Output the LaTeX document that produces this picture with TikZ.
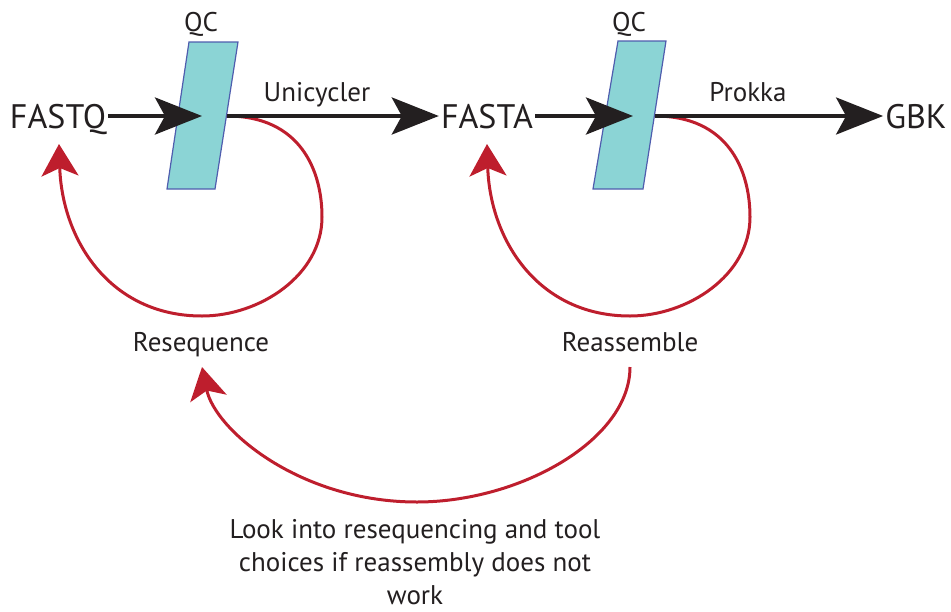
\documentclass[tikz,border=0pt]{standalone}
\usepackage{fontspec}
\setmainfont{PT Sans}
\usetikzlibrary{arrows.meta}
\definecolor{ink}{HTML}{231F20}
\definecolor{rd}{HTML}{BE1E2D}
\definecolor{qcfill}{HTML}{8BD4D5}
\definecolor{qcedge}{HTML}{4F5DAE}
\tikzset{
  lbl/.style={font=\fontsize{27}{33}\selectfont, text=ink, inner sep=0pt, anchor=base},
  big/.style={font=\fontsize{34}{40}\selectfont, text=ink, inner sep=2pt, anchor=base},
  flow/.style={draw=ink, line width=4pt, -{Stealth[length=47pt,width=37pt,inset=10pt]}},
  loopc/.style={draw=rd, line width=3pt, -{Stealth[length=32pt,width=37pt,inset=8pt]}},
  qcbox/.style={fill=qcfill, draw=qcedge, line width=1.2pt}
}
\begin{document}
\begin{tikzpicture}[x=1pt,y=-1pt]
\useasboundingbox (0,0) rectangle (951,611);
% QC boxes
\path[qcbox] (189,42) -- (238,42) -- (215,189) -- (167,189) -- cycle;
\path[qcbox] (618,41) -- (666,41) -- (643,189) -- (593,189) -- cycle;
\coordinate (qc1) at (202,116);
\coordinate (qc1r) at (227,116);
\coordinate (qc2) at (633,116);
\coordinate (qc2r) at (655,116);
% labels
\node[lbl] (qcl1) at (201,31.5) {QC};
\node[lbl] (qcl2) at (629,31.5) {QC};
\node[big] (fastq) at (58,128) {FASTQ};
\node[big] (fasta) at (487,128) {FASTA};
\node[big] (gbk) at (916,128) {GBK};
\node[lbl] (uni) at (317,101.5) {Unicycler};
\node[lbl] (prokka) at (748,101) {Prokka};
\node[lbl] (reseq) at (201,351.5) {Resequence};
\node[lbl] (reass) at (630,351.5) {Reassemble};
\node[lbl, align=center] (note) at (415,604.5) {Look into resequencing and tool\\choices if reassembly does not\\work};
% loop end points
\coordinate (fqin) at (59,144);
\coordinate (fain) at (487,144);
\coordinate (rsin) at (202,367);
\coordinate (raout) at (630,367);
% red loops
\draw[loopc] (qc1r) .. controls (300,116) and (322,170) .. (322,217)
  .. controls (322,275) and (260,316) .. (202,316)
  .. controls (110,316) and (62,240) .. (fqin);
\draw[loopc] (qc2r) .. controls (728,116) and (750,170) .. (750,217)
  .. controls (750,275) and (688,316) .. (630,316)
  .. controls (538,316) and (490,240) .. (fain);
\draw[loopc] (raout) .. controls (630,440) and (520,502) .. (417,502)
  .. controls (300,502) and (215,430) .. (rsin);
% black flow arrows
\draw[flow] (fastq.east |- qc1) -- (qc1);
\draw[flow] (qc1r) -- (fasta.west |- qc1r);
\draw[flow] (fasta.east |- qc2) -- (qc2);
\draw[flow] (qc2r) -- (gbk.west |- qc2r);
\end{tikzpicture}
\end{document}
